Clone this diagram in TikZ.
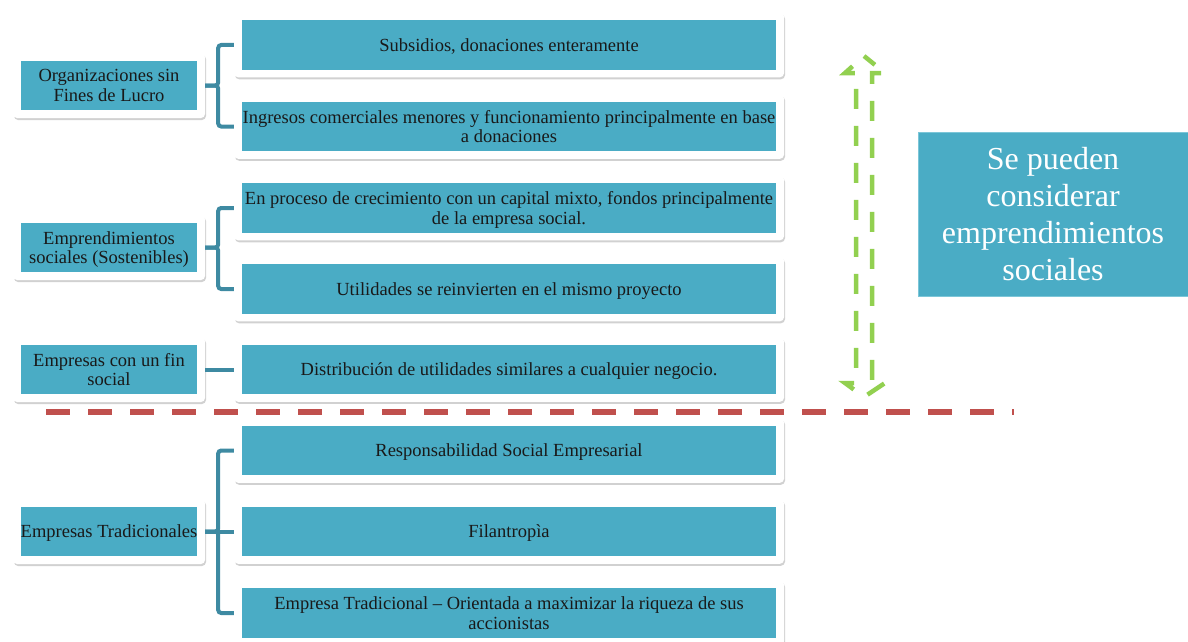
\documentclass[tikz,border=0pt]{standalone}
\usepackage{fontspec}
\setmainfont{Liberation Serif}
\usetikzlibrary{shadows}
\definecolor{boxteal}{HTML}{4AACC5}
\definecolor{lineteal}{HTML}{3E8AA2}
\definecolor{boxedge}{HTML}{7CC6D8}
\definecolor{redline}{HTML}{C0504D}
\definecolor{greenline}{HTML}{92D050}
\tikzset{
  outerbox/.style={draw=none, fill=white, rounded corners=4pt,
    drop shadow={shadow xshift=1pt, shadow yshift=-2pt, fill=black, opacity=0.18}},
  rightouter/.style={outerbox, minimum width=550pt, minimum height=64.5pt},
  leftouter/.style={outerbox, minimum width=192pt, minimum height=65pt},
  innerbox/.style={fill=boxteal, draw=none, inner sep=0pt, align=center, text depth=0pt,
    font=\fontsize{18.5}{19.5}\selectfont, text=black!90},
  rightinner/.style={innerbox, minimum width=534pt, minimum height=49.5pt},
  leftinner/.style={innerbox, minimum width=176pt, minimum height=49.5pt},
  conn/.style={draw=lineteal, line width=4pt, rounded corners=3pt},
}
\begin{document}
\begin{tikzpicture}[x=1pt,y=-1pt]
\useasboundingbox (0,0) rectangle (1188,642);
% right boxes
\node[rightouter] (oS) at (509,45) {};
\node[rightinner] (S) at (509,45) {Subsidios, donaciones enteramente};
\node[rightouter] (oI) at (509,126.5) {};
\node[rightinner] (I) at (509,126.5) {Ingresos comerciales menores y funcionamiento principalmente en base\\a donaciones};
\node[rightouter] (oP) at (509,208) {};
\node[rightinner] (P) at (509,208) {En proceso de crecimiento con un capital mixto, fondos principalmente\\de la empresa social.};
\node[rightouter] (oU) at (509,289) {};
\node[rightinner] (U) at (509,289) {Utilidades se reinvierten en el mismo proyecto};
\node[rightouter] (oD) at (509,369.5) {};
\node[rightinner] (D) at (509,369.5) {Distribución de utilidades similares a cualquier negocio.};
\node[rightouter] (oR) at (509,450.5) {};
\node[rightinner] (R) at (509,450.5) {Responsabilidad Social Empresarial};
\node[rightouter] (oF) at (509,531.5) {};
\node[rightinner] (F) at (509,531.5) {Filantropìa};
\node[rightouter] (oE) at (509,613) {};
\node[rightinner] (E) at (509,613) {Empresa Tradicional – Orientada a maximizar la riqueza de sus\\accionistas};
% left boxes
\node[leftouter] (oOrg) at (109,85.5) {};
\node[leftinner] (Org) at (109,85.5) {Organizaciones sin\\Fines de Lucro};
\node[leftouter] (oEmp) at (109,247.5) {};
\node[leftinner] (Emp) at (109,247.5) {Emprendimientos\\sociales (Sostenibles)};
\node[leftouter] (oFin) at (109,369.5) {};
\node[leftinner] (Fin) at (109,369.5) {Empresas con un fin\\social};
\node[leftouter] (oTrad) at (109,531.5) {};
\node[leftinner] (Trad) at (109,531.5) {Empresas Tradicionales};
% connectors
\draw[conn] (oOrg.east) -- ++(13,0) |- (oS.west);
\draw[conn] (oOrg.east) -- ++(13,0) |- (oI.west);
\draw[conn] (oEmp.east) -- ++(13,0) |- (oP.west);
\draw[conn] (oEmp.east) -- ++(13,0) |- (oU.west);
\draw[conn] (oFin.east) -- (oD.west);
\draw[conn] (oTrad.east) -- ++(13,0) |- (oR.west);
\draw[conn] (oTrad.east) -- (oF.west);
\draw[conn] (oTrad.east) -- ++(13,0) |- (oE.west);
% red dashed separator
\coordinate (rl) at (46,412);
\coordinate (rr) at (1014,412);
\draw[redline, line width=6pt, dash pattern=on 24pt off 18pt] (rl) -- (rr);
% green dashed double arrow
\coordinate (gt) at (864,56);
\coordinate (gb) at (864,397);
\draw[greenline, line width=4.5pt, dash pattern=on 20pt off 17pt, dash phase=6pt, line join=miter]
  (gt) -- (885,73) -- (872,73) -- (872,383) -- (885,383) -- (gb)
  -- (845,383) -- (856,383) -- (856,73) -- (845,73) -- cycle;
% side box
\node[fill=boxteal, draw=boxedge, line width=1pt, minimum width=270pt, minimum height=164pt,
  align=center, text=white, font=\fontsize{32}{37}\selectfont, inner sep=0pt]
  (side) at (1053,214) {Se pueden\\considerar\\emprendimientos\\sociales};
\end{tikzpicture}
\end{document}
